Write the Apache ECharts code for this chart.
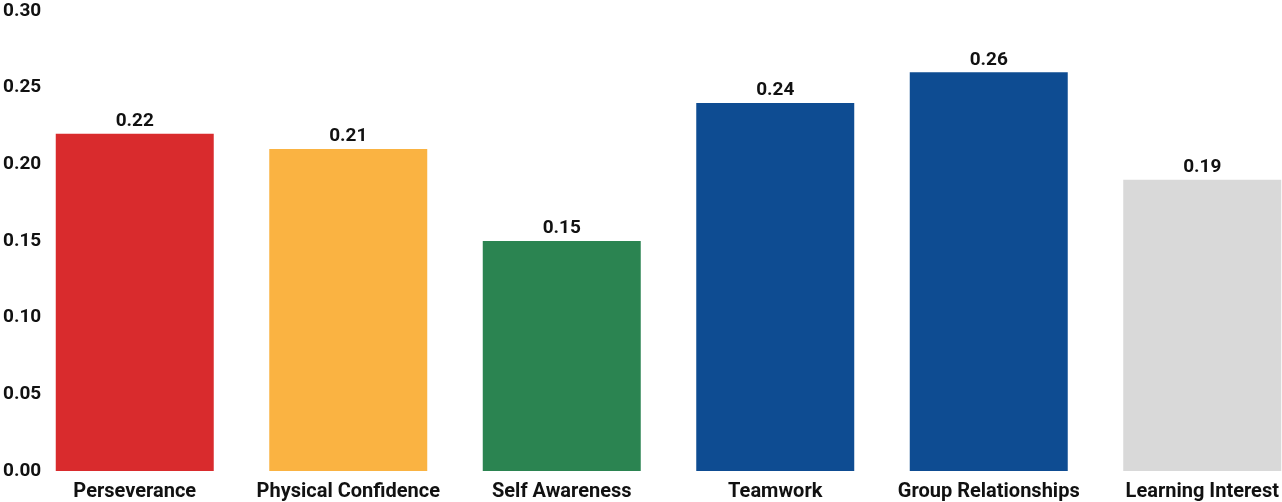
<!DOCTYPE html>
<html>
<head>
<meta charset="utf-8">
<script src="https://cdn.jsdelivr.net/npm/echarts@6/dist/echarts.min.js"></script>
<style>
  html, body { margin: 0; padding: 0; background: #fff; overflow: hidden; }
  /* the last category band runs past the right edge of the window */
  #chart { width: 1309px; height: 502px; }
</style>
</head>
<body>
<div id="chart"></div>
<script>
const categories = ['Perseverance', 'Physical Confidence', 'Self Awareness', 'Teamwork', 'Group Relationships', 'Learning Interest'];
const values = [0.22, 0.21, 0.15, 0.24, 0.26, 0.19];
const barColors = ['#d92b2d', '#fab342', '#2b8451', '#0e4c92', '#0e4c92', '#d9d9d9'];

const font = 'Roboto, "DejaVu Sans", sans-serif';

const chart = echarts.init(document.getElementById('chart'));
chart.setOption({
    backgroundColor: '#fff',
    animation: false,
    grid: { left: 28, right: 0, top: 11, bottom: 31 },
    xAxis: {
        type: 'category',
        data: categories,
        axisLine: { show: false },
        axisTick: { show: false },
        axisLabel: {
            color: '#111',
            fontFamily: font,
            fontWeight: 'bold',
            fontSize: 20,
            margin: 11,
            interval: 0
        }
    },
    yAxis: {
        type: 'value',
        min: 0,
        max: 0.3,
        interval: 0.05,
        axisLine: { show: false },
        axisTick: { show: false },
        splitLine: { show: false },
        axisLabel: {
            color: '#111',
            fontFamily: font,
            fontWeight: 'bold',
            fontSize: 19,
            align: 'left',
            margin: 25,
            padding: [4, 0, 0, 0],
            formatter: v => v.toFixed(2)
        }
    },
    series: [{
        type: 'bar',
        barCategoryGap: '26%',
        data: values.map((v, i) => ({ value: v, itemStyle: { color: barColors[i] } })),
        label: {
            show: true,
            position: 'top',
            distance: 3,
            color: '#111',
            fontFamily: font,
            fontWeight: 'bold',
            fontSize: 19,
            formatter: p => p.value.toFixed(2)
        }
    }]
});
</script>
</body>
</html>
